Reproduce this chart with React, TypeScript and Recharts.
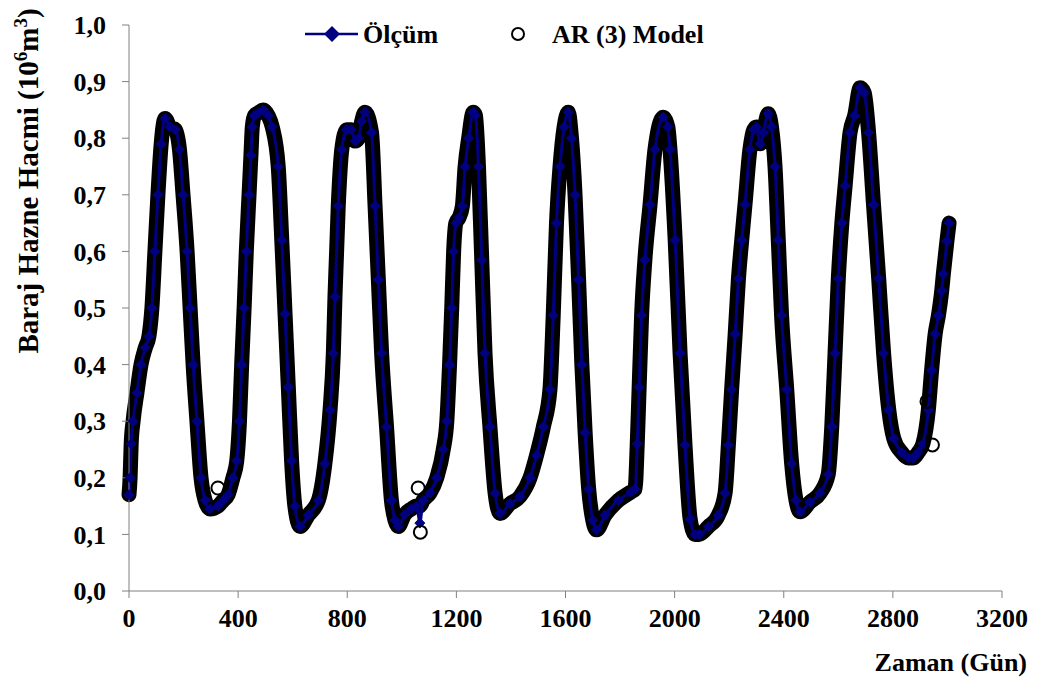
import React from "react";
import {
  ComposedChart,
  Line,
  XAxis,
  YAxis,
  Legend,
} from "recharts";

const days = [
  0, 4, 8, 15, 29, 44, 60, 73, 84, 95, 106, 118, 132, 150, 170, 185, 198, 213, 224, 235,
  249, 264, 279, 297, 326, 345, 363, 381, 395, 405, 413, 422, 430, 440, 447, 452, 460, 475, 492, 510,
  525, 547, 560, 572, 584, 596, 608, 627, 657, 694, 718, 737, 749, 755, 767, 780, 798, 815, 829, 841,
  853, 865, 889, 902, 914, 926, 944, 962, 975, 987, 1010, 1035, 1055, 1066, 1078, 1103, 1128, 1152, 1165, 1175,
  1183, 1190, 1198, 1210, 1222, 1232, 1245, 1262, 1270, 1281, 1293, 1305, 1323, 1342, 1360, 1396, 1433, 1470, 1494, 1519,
  1543, 1555, 1567, 1580, 1595, 1610, 1622, 1635, 1648, 1660, 1672, 1685, 1700, 1714, 1745, 1794, 1840, 1855, 1863, 1870,
  1879, 1891, 1910, 1928, 1958, 1975, 1983, 2002, 2020, 2038, 2057, 2075, 2090, 2124, 2160, 2185, 2197, 2209, 2222, 2234,
  2246, 2258, 2276, 2290, 2300, 2313, 2325, 2343, 2355, 2368, 2380, 2392, 2411, 2429, 2445, 2460, 2496, 2533, 2563, 2576,
  2588, 2600, 2613, 2625, 2643, 2660, 2680, 2695, 2711, 2729, 2748, 2766, 2785, 2803, 2832, 2857, 2875, 2893, 2910, 2930,
  2942, 2955, 2967, 2979, 2985, 2998, 3006,
];

const olcum = [
  0.17, 0.2, 0.26, 0.3, 0.35, 0.4, 0.43, 0.45, 0.5, 0.6, 0.7, 0.79, 0.835, 0.82, 0.815, 0.78, 0.7, 0.6, 0.5, 0.4,
  0.3, 0.2, 0.16, 0.145, 0.15, 0.16, 0.17, 0.2, 0.23, 0.3, 0.4, 0.5, 0.6, 0.7, 0.77, 0.82, 0.84, 0.845, 0.85, 0.84,
  0.82, 0.75, 0.62, 0.49, 0.36, 0.23, 0.15, 0.114, 0.134, 0.16, 0.225, 0.32, 0.42, 0.52, 0.68, 0.78, 0.815, 0.815, 0.795, 0.8,
  0.83, 0.846, 0.81, 0.68, 0.55, 0.42, 0.29, 0.16, 0.125, 0.114, 0.135, 0.145, 0.15, 0.12, 0.16, 0.173, 0.2, 0.25, 0.3, 0.4,
  0.5, 0.6, 0.65, 0.66, 0.68, 0.75, 0.8, 0.846, 0.84, 0.75, 0.585, 0.42, 0.29, 0.173, 0.137, 0.154, 0.167, 0.2, 0.24, 0.29,
  0.356, 0.487, 0.65, 0.75, 0.82, 0.846, 0.8, 0.7, 0.55, 0.4, 0.28, 0.18, 0.125, 0.108, 0.134, 0.16, 0.175, 0.18, 0.26, 0.36,
  0.487, 0.585, 0.683, 0.78, 0.837, 0.82, 0.78, 0.62, 0.42, 0.258, 0.127, 0.1, 0.1, 0.114, 0.134, 0.173, 0.258, 0.356, 0.454, 0.552,
  0.62, 0.683, 0.78, 0.815, 0.82, 0.79, 0.81, 0.843, 0.82, 0.75, 0.62, 0.487, 0.356, 0.225, 0.16, 0.14, 0.157, 0.173, 0.206, 0.29,
  0.42, 0.552, 0.65, 0.716, 0.81, 0.84, 0.889, 0.88, 0.81, 0.683, 0.552, 0.42, 0.32, 0.27, 0.245, 0.235, 0.235, 0.245, 0.26, 0.32,
  0.39, 0.454, 0.487, 0.53, 0.56, 0.618, 0.65,
];

const model = [
  0.17, 0.2, 0.26, 0.3, 0.35, 0.4, 0.43, 0.45, 0.5, 0.6, 0.7, 0.79, 0.835, 0.82, 0.815, 0.78, 0.7, 0.6, 0.5, 0.4,
  0.3, 0.2, 0.16, 0.145, 0.15, 0.16, 0.17, 0.2, 0.23, 0.3, 0.4, 0.5, 0.6, 0.7, 0.77, 0.82, 0.84, 0.845, 0.85, 0.84,
  0.82, 0.75, 0.62, 0.49, 0.36, 0.23, 0.15, 0.114, 0.134, 0.16, 0.225, 0.32, 0.42, 0.52, 0.68, 0.78, 0.815, 0.815, 0.795, 0.8,
  0.83, 0.846, 0.81, 0.68, 0.55, 0.42, 0.29, 0.16, 0.125, 0.114, 0.135, 0.145, 0.15, 0.15, 0.16, 0.173, 0.2, 0.25, 0.3, 0.4,
  0.5, 0.6, 0.65, 0.66, 0.68, 0.75, 0.8, 0.846, 0.84, 0.75, 0.585, 0.42, 0.29, 0.173, 0.137, 0.154, 0.167, 0.2, 0.24, 0.29,
  0.356, 0.487, 0.65, 0.75, 0.82, 0.846, 0.8, 0.7, 0.55, 0.4, 0.28, 0.18, 0.125, 0.108, 0.134, 0.16, 0.175, 0.18, 0.26, 0.36,
  0.487, 0.585, 0.683, 0.78, 0.837, 0.82, 0.78, 0.62, 0.42, 0.258, 0.127, 0.1, 0.1, 0.114, 0.134, 0.173, 0.258, 0.356, 0.454, 0.552,
  0.62, 0.683, 0.78, 0.815, 0.82, 0.79, 0.81, 0.843, 0.82, 0.75, 0.62, 0.487, 0.356, 0.225, 0.16, 0.14, 0.157, 0.173, 0.206, 0.29,
  0.42, 0.552, 0.65, 0.716, 0.81, 0.84, 0.889, 0.88, 0.81, 0.683, 0.552, 0.42, 0.32, 0.27, 0.245, 0.235, 0.235, 0.245, 0.26, 0.32,
  0.39, 0.454, 0.487, 0.53, 0.56, 0.618, 0.65,
];

// model points that stray off the measured curve
const modelExtraDays = [326, 1060, 1068, 2925, 2945];
const modelExtraValues = [0.182, 0.182, 0.104, 0.335, 0.258];

const xTicks = [0, 400, 800, 1200, 1600, 2000, 2400, 2800, 3200];
const yTicks = [0, 0.1, 0.2, 0.3, 0.4, 0.5, 0.6, 0.7, 0.8, 0.9, 1.0];

const W = 1044;
const H = 681;
const FONT = "'Liberation Serif', 'Times New Roman', serif";
const NAVY = "#000080";

type Row = { day: number; olcum?: number; model?: number; extra?: number };

const rows: Row[] = days.map((d, i) => ({ day: d, olcum: olcum[i], model: model[i] }));
modelExtraDays.forEach((d, i) => rows.push({ day: d, extra: modelExtraValues[i] }));
rows.sort((a, b) => a.day - b.day);

const Diamond = (props: any) => {
  const { cx, cy } = props;
  if (cx == null || cy == null) return null;
  const s = 5;
  return (
    <polygon
      points={`${cx},${cy - s} ${cx + s},${cy} ${cx},${cy + s} ${cx - s},${cy}`}
      fill={NAVY}
      stroke={NAVY}
    />
  );
};

const LegendBox = () => (
  <svg width={W} height={50} style={{ display: "block" }}>
    <line x1={297} y1={26} x2={350} y2={26} stroke={NAVY} strokeWidth={2.5} />
    <polygon points="324,18 332,26 324,34 316,26" fill={NAVY} />
    <text x={355} y={35} fontFamily={FONT} fontWeight="bold" fontSize={26} fill="#000">
      Ölçüm
    </text>
    <circle cx={510} cy={26} r={6} fill="none" stroke="#000" strokeWidth={2} />
    <text x={544} y={35} fontFamily={FONT} fontWeight="bold" fontSize={26} fill="#000">
      AR (3) Model
    </text>
  </svg>
);

const YLabel = () => (
  <text
    x={30}
    y={173}
    transform="rotate(-90, 30, 173)"
    textAnchor="middle"
    fontFamily={FONT}
    fontWeight="bold"
    fontSize={29}
    fill="#000"
  >
    Baraj Hazne Hacmi (10
    <tspan dy={-11} fontSize={19}>6</tspan>
    <tspan dy={11}>m</tspan>
    <tspan dy={-11} fontSize={19}>3</tspan>
    <tspan dy={11}>)</tspan>
  </text>
);

const XLabel = () => (
  <text
    x={1019}
    y={663}
    textAnchor="end"
    fontFamily={FONT}
    fontWeight="bold"
    fontSize={26}
    fill="#000"
  >
    Zaman (Gün)
  </text>
);

const tickStyle = { fontSize: 26, fontWeight: 700, fill: "#000", fontFamily: FONT };

export default function App() {
  return (
    <div style={{ width: W, height: H, background: "#fff" }}>
      <ComposedChart width={W} height={H} data={rows} margin={{ top: 17, right: 50, bottom: 0, left: 0 }}>
        <XAxis
          type="number"
          dataKey="day"
          domain={[0, 3200]}
          ticks={xTicks}
          interval={0}
          height={98}
          tickSize={7}
          tickMargin={11}
          stroke="#808080"
          tick={tickStyle}
          label={XLabel}
        />
        <YAxis
          type="number"
          domain={[0, 1]}
          ticks={yTicks}
          interval={0}
          width={121}
          tickSize={7}
          tickMargin={16}
          stroke="#808080"
          tick={tickStyle}
          tickFormatter={(v: number) => v.toFixed(1).replace(".", ",")}
          label={YLabel}
        />
        <Legend
          layout="horizontal"
          verticalAlign="middle"
          align="center"
          wrapperStyle={{ top: 0, left: 0, width: W, height: 50 }}
          content={() => <LegendBox />}
        />
        <Line
          type="monotone"
          dataKey="model"
          name="AR (3) Model"
          stroke="#000"
          strokeWidth={15}
          strokeLinecap="round"
          strokeLinejoin="round"
          dot={false}
          connectNulls
          isAnimationActive={false}
        />
        <Line
          type="monotone"
          dataKey="olcum"
          name="Ölçüm"
          stroke={NAVY}
          strokeWidth={3}
          dot={<Diamond />}
          connectNulls
          isAnimationActive={false}
        />
        <Line
          type="monotone"
          dataKey="extra"
          name="AR (3) Model ek"
          stroke="none"
          legendType="none"
          dot={{ r: 6.5, stroke: "#000", strokeWidth: 2, fill: "none" }}
          isAnimationActive={false}
        />
      </ComposedChart>
    </div>
  );
}
